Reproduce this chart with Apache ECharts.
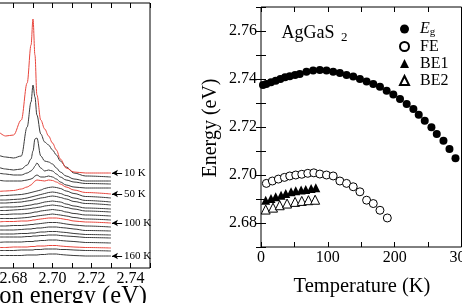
<!DOCTYPE html>
<html>
<head>
<meta charset="utf-8">
<script src="https://cdn.jsdelivr.net/npm/echarts@6/dist/echarts.min.js"></script>
<style>
  html, body { margin: 0; padding: 0; width: 462px; height: 303px; overflow: hidden; background: #fff; }
  #chart { position: absolute; left: -60px; top: 0; width: 560px; height: 303px; }
</style>
</head>
<body>
<div id="chart"></div>
<script>
// ---- left panel: PL spectra, stacked (offset) ----
const energies = [2.672, 2.676, 2.680, 2.684, 2.687, 2.689, 2.690, 2.691, 2.692, 2.694, 2.696, 2.698, 2.700, 2.702, 2.704, 2.707, 2.711, 2.717, 2.730];
const offsets = [95, 91, 87, 84, 80, 74, 70, 66, 63, 59, 56, 52, 48, 45, 41, 37, 33, 30, 25, 20, 17, 12];
const redCurves = [0, 5, 13, 19];
const profiles = [
  [42, 37, 38, 53, 90, 128, 154, 118, 78, 53, 44, 37, 30, 23, 14, 5, 1, 0, 0],
  [22, 20, 19, 21, 50, 75, 92, 80, 62, 43, 35, 32, 27, 22, 16, 10, 4, 1, 0],
  [14, 12, 11, 12, 16, 22, 30, 42, 43, 25, 20, 19, 17, 13, 9, 5, 2, 0, 0],
  [11, 10, 9, 9, 11, 13, 15, 18, 21, 16, 13, 14, 13, 10, 7, 4, 2, 0.5, 0],
  [8, 7, 7, 7, 8, 9, 10, 12, 13, 11, 11, 12, 11, 9, 6, 3, 1, 0, 0],
  [2.5, 3, 3.5, 5, 7, 9, 11, 13, 14, 13.5, 13, 14, 13.5, 12, 10, 7, 4, 1.5, 0],
  [2, 2.5, 3, 3.5, 4.5, 5.5, 6, 6.5, 7, 8, 9.5, 10.5, 11, 10.5, 9.5, 7, 4.5, 1.5, 0],
  [2, 2, 2.5, 3, 4, 5, 5.5, 6, 6.5, 7.5, 8.5, 9.5, 10, 9.5, 8.5, 6.5, 4, 1.5, 0],
  [2, 2, 2.5, 3, 4, 4.5, 5, 5.5, 6, 7, 7.5, 8.5, 9, 8.5, 7.5, 6, 3.5, 1.5, 0],
  [1.5, 2, 2, 2.5, 3.5, 4, 4.5, 5, 5, 6, 7, 7.5, 8, 7.5, 7, 5, 3, 1, 0],
  [1.5, 1.5, 2, 2.5, 3, 3.5, 4, 4, 4.5, 5, 6, 6.5, 7, 6.5, 6, 4.5, 3, 1, 0],
  [1.5, 1.5, 2, 2, 2.5, 3, 3.5, 4, 4, 5, 5.5, 6, 6.5, 6, 5.5, 4, 2.5, 1, 0],
  [1.5, 1.5, 1.5, 2, 2.5, 3, 3.5, 3.5, 4, 4.5, 5, 5.5, 6, 5.5, 5, 4, 2.5, 1, 0],
  [1, 1.5, 1.5, 2, 2, 2.5, 3, 3, 3.5, 4, 4.5, 5, 5, 5, 4.5, 3.5, 2, 1, 0],
  [1, 1, 1.5, 1.5, 2, 2.5, 2.5, 3, 3, 3.5, 4, 4.5, 4.5, 4.5, 4, 3, 2, 1, 0],
  [1, 1, 1, 1.5, 2, 2, 2.5, 2.5, 3, 3, 3.5, 4, 4, 4, 3.5, 3, 2, 0.5, 0],
  [1, 1, 1, 1.5, 1.5, 2, 2, 2, 2.5, 3, 3, 3.5, 3.5, 3.5, 3, 2.5, 1.5, 0.5, 0],
  [1, 1, 1, 1, 1.5, 1.5, 2, 2, 2, 2.5, 2.5, 3, 3, 3, 2.5, 2, 1.5, 0.5, 0],
  [0.5, 1, 1, 1, 1.5, 1.5, 1.5, 2, 2, 2.5, 2.5, 3, 3, 3, 2.5, 2, 1.5, 0.5, 0],
  [0.5, 0.5, 1, 1, 1, 1.5, 1.5, 1.5, 2, 2, 2, 2.5, 2.5, 2.5, 2, 1.5, 1, 0.5, 0],
  [0.5, 0.5, 0.5, 1, 1, 1, 1, 1.5, 1.5, 1.5, 2, 2, 2, 2, 1.5, 1.5, 1, 0.5, 0],
  [0.5, 0.5, 0.5, 0.5, 1, 1, 1, 1, 1, 1.5, 1.5, 2, 2, 2, 1.5, 1, 0.5, 0, 0]
];
const arrowLabels = ['10 K', '50 K', '100 K', '160 K'];
const arrowCurves = [0, 5, 13, 21];

// ---- right panel: peak energies vs temperature ----
const egT = [3, 8, 15, 22, 29, 36, 43, 51, 58, 68, 78, 88, 98, 108, 118, 128, 138, 148, 158, 168, 178, 188, 198, 208, 218, 228, 236, 245, 255, 263, 273, 282, 291];
const egE = [2.7375, 2.7379, 2.7386, 2.7393, 2.7400, 2.7407, 2.7411, 2.7417, 2.7421, 2.7430, 2.7435, 2.7438, 2.7435, 2.7430, 2.7425, 2.7417, 2.7410, 2.7400, 2.7390, 2.7379, 2.7368, 2.7351, 2.7335, 2.7317, 2.7296, 2.7275, 2.7251, 2.7226, 2.7199, 2.7171, 2.7143, 2.7108, 2.7070];
const feT = [8, 17, 26, 35, 43, 52, 61, 70, 79, 88, 98, 108, 118, 128, 138, 148, 158, 168, 178, 189];
const feE = [2.6965, 2.6975, 2.6983, 2.6990, 2.6996, 2.7000, 2.7003, 2.7007, 2.7009, 2.7004, 2.7000, 2.6996, 2.6975, 2.6965, 2.6951, 2.6930, 2.6895, 2.6881, 2.6853, 2.6821];
const be1T = [7, 15, 22, 30, 37, 45, 52, 60, 67, 75, 82];
const be1E = [2.6895, 2.6902, 2.6909, 2.6916, 2.6923, 2.6930, 2.6934, 2.6937, 2.6940, 2.6944, 2.6947];
const be2T = [7, 18, 28, 39, 51, 61, 71, 81];
const be2E = [2.6856, 2.6864, 2.6874, 2.6881, 2.6888, 2.6892, 2.6895, 2.6897];

const SERIF = '"Liberation Serif", "DejaVu Serif", serif';
const OX = 60; // chart div is shifted 60px left so the left panel is cut like the reference

const zip = (xs, ys) => xs.map((x, i) => [x, ys[i]]);
const evenLabel = (v) => (Math.round(v * 100) % 2 === 0 ? v.toFixed(2) : '');

let chart = echarts.init(document.getElementById('chart'), null, { renderer: 'canvas' });

const spectra = profiles.map((p, k) => {
  const red = redCurves.indexOf(k) >= 0;
  const s = {
    type: 'line',
    xAxisIndex: 0,
    yAxisIndex: 0,
    data: energies.map((e, i) => [e, offsets[k] + p[i]]),
    showSymbol: false,
    smooth: 0.35,
    smoothMonotone: 'x',
    lineStyle: { color: red ? '#e8453c' : '#3a3a3a', width: 1 },
    silent: true,
    z: red ? 3 : 2,
  };
  const a = arrowCurves.indexOf(k);
  if (a >= 0) {
    s.markLine = {
      silent: true,
      symbol: ['arrow', 'none'],
      symbolSize: [5, 6],
      lineStyle: { color: '#000', width: 1, type: 'solid' },
      label: {
        show: true, position: 'end', distance: 2,
        formatter: arrowLabels[a],
        fontFamily: SERIF, fontSize: 11, color: '#000',
      },
      data: [[{ coord: [2.7305, offsets[k]] }, { coord: [2.7357, offsets[k]] }]],
    };
  }
  return s;
});

const tickAxisBase = {
  axisLine: { show: false },
  splitLine: { show: false },
  axisTick: { show: true, inside: true, length: 5, lineStyle: { color: '#000' } },
};

chart.setOption({
  animation: false,
  grid: [
    { left: 34.5, right: 350, top: 3, bottom: 35, show: true, borderColor: '#000', borderWidth: 1 },
    { left: 321, right: 38.5, top: 7, bottom: 56, show: true, borderColor: '#000', borderWidth: 1 },
  ],
  legend: {
    data: ['Eg', 'FE', 'BE1', 'BE2'],
    orient: 'vertical',
    left: 454, top: 15,
    itemWidth: 9, itemHeight: 9, itemGap: 0,
    selectedMode: false,
    formatter: (n) => (n === 'Eg' ? '{i|E}{s|g}' : n),
    textStyle: {
      fontFamily: SERIF, fontSize: 16, color: '#000', lineHeight: 17, padding: [0, 0, 0, 6],
      rich: {
        i: { fontFamily: SERIF, fontSize: 16, fontStyle: 'italic', color: '#000', lineHeight: 17 },
        s: { fontFamily: SERIF, fontSize: 11, color: '#000', padding: [7, 0, 0, 0], lineHeight: 17 },
      },
    },
  },
  xAxis: [
    Object.assign({}, tickAxisBase, {
      gridIndex: 0, type: 'value', min: 2.66, max: 2.75, interval: 0.01,
      axisLabel: { formatter: evenLabel, fontFamily: SERIF, fontSize: 16, color: '#000', margin: 3 },
    }),
    Object.assign({}, tickAxisBase, {
      gridIndex: 0, type: 'value', position: 'top', min: 2.66, max: 2.75, interval: 0.01,
      axisLabel: { show: false },
    }),
    Object.assign({}, tickAxisBase, {
      gridIndex: 1, type: 'value', min: 0, max: 300, interval: 50,
      axisLabel: {
        formatter: (v) => (v % 100 === 0 ? String(v) : ''),
        fontFamily: SERIF, fontSize: 16, color: '#000', margin: 3,
      },
    }),
    Object.assign({}, tickAxisBase, {
      gridIndex: 1, type: 'value', position: 'top', min: 0, max: 300, interval: 50,
      axisLabel: { show: false },
    }),
  ],
  yAxis: [
    { gridIndex: 0, type: 'value', min: 0, max: 265, show: false },
    Object.assign({}, tickAxisBase, {
      gridIndex: 1, type: 'value', min: 2.67, max: 2.77, interval: 0.01,
      axisLabel: { formatter: evenLabel, fontFamily: SERIF, fontSize: 16, color: '#000', margin: 4 },
    }),
    Object.assign({}, tickAxisBase, {
      gridIndex: 1, type: 'value', position: 'right', min: 2.67, max: 2.77, interval: 0.01,
      axisLabel: { show: false },
    }),
  ],
  series: spectra.concat([
    {
      name: 'Eg', type: 'scatter', xAxisIndex: 2, yAxisIndex: 1,
      data: zip(egT, egE), symbol: 'circle', symbolSize: 8,
      itemStyle: { color: '#000', opacity: 1 },
    },
    {
      name: 'FE', type: 'scatter', xAxisIndex: 2, yAxisIndex: 1,
      data: zip(feT, feE), symbol: 'circle', symbolSize: 8,
      itemStyle: { color: '#fff', borderColor: '#000', borderWidth: 1, opacity: 1 },
    },
    {
      name: 'BE1', type: 'scatter', xAxisIndex: 2, yAxisIndex: 1,
      data: zip(be1T, be1E), symbol: 'triangle', symbolSize: 9,
      itemStyle: { color: '#000', opacity: 1 },
    },
    {
      name: 'BE2', type: 'scatter', xAxisIndex: 2, yAxisIndex: 1,
      data: zip(be2T, be2E), symbol: 'triangle', symbolSize: 9,
      itemStyle: { color: '#fff', borderColor: '#000', borderWidth: 1, opacity: 1 },
    },
  ]),
  graphic: [
    { type: 'text', x: 281.5 + OX, y: 33, style: { text: 'AgGaS', fontFamily: SERIF, fontSize: 18, fill: '#000', verticalAlign: 'middle' } },
    { type: 'text', x: 341 + OX, y: 38, style: { text: '2', fontFamily: SERIF, fontSize: 13, fill: '#000', verticalAlign: 'middle' } },
    { type: 'text', x: 211 + OX, y: 128, rotation: Math.PI / 2, style: { text: 'Energy (eV)', fontFamily: SERIF, fontSize: 20, fill: '#000', align: 'center', verticalAlign: 'middle' } },
    { type: 'text', x: 362 + OX, y: 287, style: { text: 'Temperature (K)', fontFamily: SERIF, fontSize: 20.5, fill: '#000', align: 'center', verticalAlign: 'middle' } },
    { type: 'text', x: 147 + OX, y: 297, style: { text: 'Photon energy (eV)', fontFamily: SERIF, fontSize: 24.5, fill: '#000', align: 'right', verticalAlign: 'middle' } },
  ],
});
</script>
</body>
</html>
